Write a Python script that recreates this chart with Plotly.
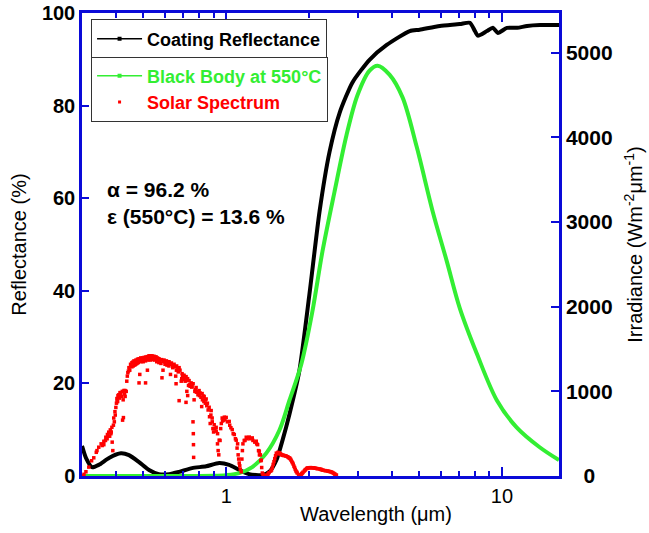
import math
import plotly.graph_objects as go

# ---------------- data ----------------
refl_wavelength = [0.30, 0.31, 0.326, 0.345, 0.376, 0.415, 0.444, 0.483, 0.525, 0.570, 0.621,
                   0.675, 0.752, 0.846, 0.943, 1.025, 1.115, 1.212, 1.352, 1.433, 1.52, 1.60,
                   1.695, 1.842, 2.004, 2.18, 2.37, 2.58, 2.87, 3.31, 3.82, 4.63, 5.03, 5.95,
                   7.03, 7.65, 7.98, 8.18, 8.82, 9.27, 9.67, 10.43, 11.35, 12.33, 13.75, 15.85, 16.1]
reflectance = [6.5, 3.9, 1.9, 2.4, 3.9, 4.9, 4.5, 3.0, 1.3, 0.4, 0.4,
               0.9, 1.7, 2.1, 2.8, 2.4, 1.3, 0.4, 0.2, 0.9, 3.4, 7.7,
               13.3, 22.7, 39.3, 57.1, 70.0, 78.5, 85.0, 89.9, 93.1, 96.1, 96.4, 97.2,
               97.6, 97.9, 96.1, 95.1, 96.1, 96.8, 95.7, 96.8, 96.8, 97.2, 97.4, 97.4, 97.4]

bb_wavelength = [0.30, 0.70, 0.90, 1.0, 1.115, 1.243, 1.398, 1.559, 1.695, 1.874, 2.055, 2.234,
                 2.47, 2.73, 2.99, 3.31, 3.54, 3.91, 4.36, 4.91, 5.61, 6.31, 7.03, 8.11,
                 9.59, 11.3, 13.7, 16.1]
bb_irradiance = [0, 0, 2, 10, 35, 106, 270, 540, 892, 1327, 1949, 2653,
                 3357, 4026, 4496, 4790, 4848, 4742, 4473, 3886, 3123, 2536, 1984, 1444,
                 892, 575, 340, 188]

solar_wavelength = [
    0.300, 0.305, 0.31, 0.3175, 0.325, 0.331, 0.338, 0.345, 0.352, 0.360, 0.366, 0.371, 0.375,
    0.380, 0.385, 0.391, 0.395, 0.398, 0.4015, 0.405, 0.408, 0.412, 0.415, 0.42, 0.426, 0.43,
    0.436, 0.4439, 0.45, 0.4552, 0.463, 0.4708, 0.477, 0.4828, 0.49, 0.497, 0.5034, 0.51, 0.517,
    0.5248, 0.531, 0.5382, 0.547, 0.5565, 0.5635, 0.5706, 0.583, 0.5951, 0.607, 0.6205, 0.633,
    0.6472, 0.661, 0.6748, 0.6918, 0.7036, 0.7154, 0.7245, 0.7336, 0.746, 0.7586, 0.7779, 0.7976,
    0.8179, 0.832, 0.8459, 0.8673, 0.882, 0.8894, 0.9045, 0.9197, 0.9305, 0.9431, 0.955, 0.9671,
    0.985, 1.0, 1.0254, 1.0515, 1.07, 1.0873, 1.1, 1.1149, 1.125, 1.1337, 1.145, 1.1626, 1.1822,
    1.2124, 1.2432, 1.2856, 1.3, 1.3183, 1.33, 1.3406, 1.3519, 1.4098,
    1.43, 1.45, 1.46, 1.48, 1.50, 1.52, 1.54, 1.56, 1.58, 1.60, 1.62, 1.65, 1.68, 1.70, 1.72,
    1.74, 1.76, 1.78, 1.80, 1.81, 1.84, 1.87, 1.89, 1.92, 1.94, 1.97, 2.00, 2.04, 2.07, 2.09,
    2.13, 2.18, 2.21, 2.23, 2.28, 2.33, 2.37, 2.41, 2.45, 2.48, 2.51,
    0.36, 0.37, 0.378, 0.383, 0.386, 0.388, 0.393, 0.40, 0.404, 0.41, 0.418, 0.421, 0.423, 0.424,
    0.43, 0.434, 0.44, 0.447, 0.455, 0.46, 0.466, 0.47, 0.475, 0.48, 0.483, 0.486, 0.49, 0.50,
    0.51, 0.51, 0.518, 0.52, 0.53, 0.54, 0.55, 0.56, 0.57, 0.58, 0.585, 0.59, 0.60, 0.61, 0.62,
    0.628, 0.64, 0.656, 0.658, 0.66, 0.67, 0.675, 0.687, 0.69, 0.70, 0.71, 0.715, 0.72, 0.725,
    0.73, 0.74, 0.75, 0.758, 0.760, 0.761, 0.762, 0.765, 0.77, 0.78, 0.79, 0.80, 0.81, 0.815,
    0.82, 0.83, 0.84, 0.85, 0.86, 0.87, 0.875, 0.88, 0.89, 0.895, 0.90, 0.91, 0.92, 0.93, 0.935,
    0.94, 0.95, 0.96, 0.97, 0.98, 0.99, 1.01, 1.03, 1.04, 1.06, 1.08, 1.095, 1.105, 1.11, 1.12,
    1.14, 1.15, 1.17, 1.19, 1.22, 1.25, 1.27, 1.29, 1.31, 1.32, 1.335, 1.345, 1.36, 1.38, 1.40,
    1.42, 1.47, 1.49, 1.51, 1.53, 1.55, 1.57, 1.59, 1.61, 1.64, 1.67, 1.69, 1.71, 1.73, 1.75,
    1.77, 1.79, 1.83, 1.86, 1.88, 1.90, 1.93, 1.96, 1.98, 2.02, 2.06, 2.11, 2.15, 2.20, 2.25,
    2.30, 2.35, 2.39, 2.43, 2.47,
    0.34, 0.355, 0.365, 0.372, 0.382, 0.39, 0.396, 0.402, 0.414, 0.428, 0.438, 0.442, 0.452,
    0.458, 0.468, 0.473, 0.479, 0.488, 0.494, 0.5, 0.506, 0.514, 0.522, 0.527, 0.535, 0.543,
    0.552, 0.565, 0.575, 0.59, 0.60, 0.615, 0.625, 0.64, 0.655, 0.668, 0.68, 0.695, 0.707,
    0.72, 0.738, 0.752, 0.772, 0.786, 0.805, 0.825, 0.84, 0.855]
solar_irradiance = [
    0, 20, 50, 105, 180, 215, 280, 340, 380, 410, 458, 490, 518,
    545, 575, 685, 760, 810, 915, 950, 960, 985, 985, 1000, 1010, 1009,
    1120, 1280, 1320, 1338, 1360, 1370, 1380, 1385, 1395, 1395, 1400, 1405, 1410,
    1420, 1420, 1420, 1415, 1408, 1395, 1385, 1375, 1370, 1360, 1350, 1335,
    1320, 1300, 1280, 1209, 1190, 1174, 1150, 1127, 1100, 1090, 1045, 1009,
    974, 940, 910, 812, 773, 685, 606, 575, 500, 423, 560, 685,
    695, 692, 645, 548, 490, 423, 380, 153, 80, 49, 300, 420, 458,
    460, 450, 411, 370, 293, 250, 188, 35, 12,
    40, 58, 70, 137, 205, 270, 279, 274, 256, 246, 242, 235, 220, 211, 186,
    156, 117, 78, 49, 35, 10, 20, 35, 59, 78, 94, 96, 98, 96, 94,
    88, 83, 76, 70, 64, 59, 53, 47, 34, 20, 12,
    370, 440, 470, 520, 400, 300, 640, 860, 880, 920, 940, 660, 900, 690,
    940, 1000, 1220, 1250, 1290, 1300, 1310, 1320, 1330, 1340, 1100, 1200, 1350, 1350,
    1360, 1100, 1250, 1370, 1370, 1375, 1370, 1350, 1340, 1330, 1160, 1250, 1320, 1310, 1300,
    1200, 1280, 1180, 1090, 1250, 1230, 890, 1120, 1150, 1140, 1120, 870, 1000, 950,
    1070, 1060, 1050, 640, 500, 370, 220, 900, 1000, 990, 960, 950, 930, 820,
    900, 880, 860, 830, 780, 700, 620, 720, 640, 560, 520, 560, 530, 380, 300,
    250, 420, 620, 650, 660, 670, 640, 600, 570, 500, 440, 330, 250, 200, 120,
    200, 380, 420, 440, 440, 420, 400, 380, 300, 250, 180, 100, 20, 8, 5,
    25, 100, 170, 240, 262, 268, 262, 250, 244, 238, 228, 215, 200, 170, 140,
    100, 60, 15, 12, 28, 45, 68, 88, 95, 99, 97, 92, 86, 80, 68,
    62, 56, 50, 40, 25,
    300, 360, 420, 470, 500, 600, 720, 880, 950, 970, 1180, 1240, 1300,
    1345, 1350, 1360, 1365, 1375, 1380, 1385, 1388, 1392, 1398, 1400, 1402, 1400,
    1395, 1380, 1360, 1355, 1345, 1335, 1320, 1305, 1290, 1270, 1250, 1190, 1160,
    1130, 1080, 1060, 1020, 1000, 980, 945, 900, 860]

x_major_ticks = [1, 10]
x_major_labels = ["1", "10"]
x_minor_ticks = [0.4, 0.5, 0.6, 0.7, 0.8, 0.9, 2, 3, 4, 5, 6, 7, 8, 9]
y_left_ticks = [0, 20, 40, 60, 80, 100]
y_right_ticks = [0, 1000, 2000, 3000, 4000, 5000]
y_right_labels = ["\u00a0\u00a0\u00a00", "1000", "2000", "3000", "4000", "5000"]

# ---------------- style ----------------
BLUE = "#0a0ad8"
GREEN = "#33ee33"
RED = "#ff0000"
FONT = "Liberation Sans, Arial, sans-serif"

fig = go.Figure()

fig.add_trace(go.Scatter(x=refl_wavelength, y=reflectance, mode="lines", yaxis="y",
                         line=dict(color="black", width=4, shape="spline", smoothing=0.6),
                         showlegend=False, hoverinfo="skip"))
fig.add_trace(go.Scatter(x=bb_wavelength, y=bb_irradiance, mode="lines", yaxis="y2",
                         line=dict(color=GREEN, width=4, shape="spline", smoothing=0.9),
                         showlegend=False, hoverinfo="skip"))
fig.add_trace(go.Scatter(x=solar_wavelength, y=solar_irradiance, mode="markers", yaxis="y2",
                         marker=dict(color=RED, size=3.5, symbol="square", line=dict(width=0)),
                         showlegend=False, hoverinfo="skip"))

# legend entries
fig.add_trace(go.Scatter(x=[None], y=[None], mode="lines+markers", name="Coating Reflectance",
                         line=dict(color="black", width=1.5),
                         marker=dict(color="black", size=4, symbol="square"), legend="legend"))
fig.add_trace(go.Scatter(x=[None], y=[None], mode="lines+markers", yaxis="y2",
                         name="<span style='color:%s'>Black Body at 550°C</span>" % GREEN,
                         line=dict(color=GREEN, width=1.5),
                         marker=dict(color=GREEN, size=4, symbol="square"), legend="legend2"))
fig.add_trace(go.Scatter(x=[None], y=[None], mode="markers", yaxis="y2",
                         name="<span style='color:%s'>Solar Spectrum</span>" % RED,
                         marker=dict(color=RED, size=3, symbol="square"), legend="legend2"))

axis_common = dict(showline=True, linecolor=BLUE, linewidth=2.5, ticks="inside",
                   tickcolor=BLUE, tickwidth=2, showgrid=False, zeroline=False)

fig.update_layout(
    width=649, height=533,
    margin=dict(l=82, r=90, t=10, b=57),
    paper_bgcolor="white", plot_bgcolor="white",
    font=dict(family=FONT, color="black"),
    xaxis=dict(type="log", range=[math.log10(0.3), math.log10(16.1)],
               tickmode="array", tickvals=x_major_ticks, ticktext=x_major_labels,
               ticklen=9, mirror="ticks",
               minor=dict(tickmode="array", tickvals=x_minor_ticks, ticks="inside",
                          ticklen=5, tickwidth=2, tickcolor=BLUE),
               tickfont=dict(size=20, color="black"), **axis_common),
    yaxis=dict(range=[0, 100], tickmode="array", tickvals=y_left_ticks, ticklen=7,
               ticklabeloverflow="allow",
               tickfont=dict(size=20, color="black", weight="bold"),
               title=dict(text="Reflectance (%)", font=dict(size=20), standoff=10),
               automargin=False, **axis_common),
    yaxis2=dict(range=[0, 5470], overlaying="y", side="right", tickmode="array",
                tickvals=y_right_ticks, ticktext=y_right_labels, ticklen=8,
                ticklabeloverflow="allow",
                tickfont=dict(size=21, color="black", weight="bold"),
                title=dict(text="Irradiance (Wm<sup>-2</sup>μm<sup>-1</sup>)", font=dict(size=20), standoff=17),
                automargin=False, **axis_common),
    legend=dict(x=0.019, y=0.986, xanchor="left", yanchor="top", bgcolor="white",
                bordercolor="#333333", borderwidth=1, itemwidth=45,
                font=dict(size=18, color="black", weight="bold")),
    legend2=dict(x=0.019, y=0.906, xanchor="left", yanchor="top", bgcolor="white",
                 bordercolor="#333333", borderwidth=1, itemwidth=45,
                 font=dict(size=18, color="black", weight="bold")),
    annotations=[
        dict(text="Wavelength (μm)", x=0.616, y=-0.0815, xref="paper", yref="paper",
             xanchor="center", yanchor="middle", showarrow=False, font=dict(size=20)),
        dict(text="α = 96.2 %", x=0.048, y=0.618, xref="paper", yref="paper",
             xanchor="left", yanchor="middle", showarrow=False,
             font=dict(size=21, weight="bold")),
        dict(text="ε (550°C) = 13.6 %", x=0.048, y=0.56, xref="paper", yref="paper",
             xanchor="left", yanchor="middle", showarrow=False,
             font=dict(size=21, weight="bold")),
    ],
)

# remove the default page margin so the figure sits at the window's top-left corner
fig.write_html("out.html", config={"displayModeBar": False},
               post_script="document.body.style.margin='0';")
